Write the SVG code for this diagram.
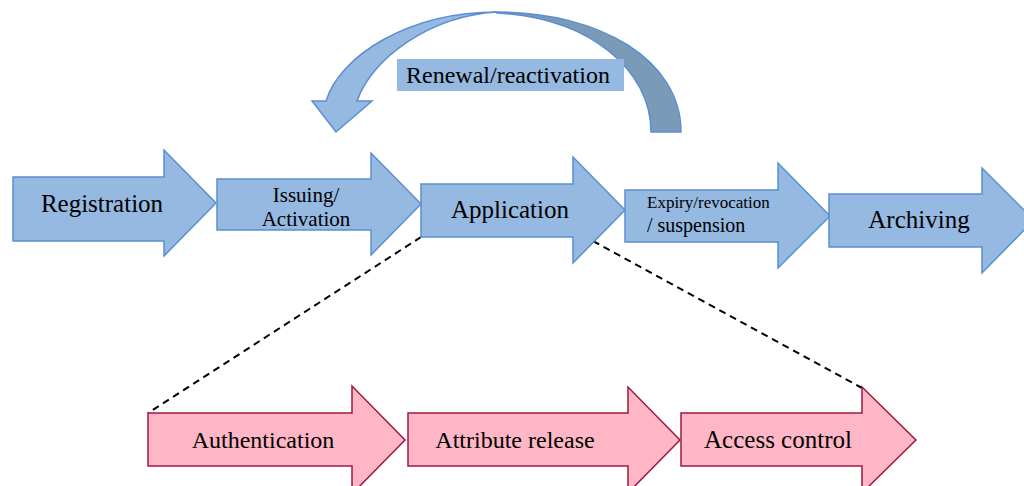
<svg xmlns="http://www.w3.org/2000/svg" width="1024" height="486" viewBox="0 0 1024 486">
<style>
.b{fill:#95B9E0;stroke:#5B8FD0;stroke-width:1.5;stroke-linejoin:miter}
.p{fill:#FFB6C6;stroke:#A0183E;stroke-width:1.5;stroke-linejoin:miter}
.t{fill:#000;text-anchor:middle}
.d{fill:none;stroke:#000;stroke-width:2;stroke-dasharray:7 5}
</style>
<rect width="1024" height="486" fill="#fff"/>
<g id="renewal">
<path d="M497,12 C600,12 681,60 681,132 L651,132 C651,70 590,18 497,13 Z" fill="#7A9AB8" stroke="#5B8FD0" stroke-width="1.5"/>
<path class="b" d="M326,101 C340,55 410,12 497,12 C430,16 372,58 357,101 L372,101 L336,132 L312,101 Z"/>
<rect x="397" y="59" width="227" height="32" fill="#95B9E0"/>
<text class="t" font-family="Liberation Serif, Times New Roman, serif" x="508" y="83" font-size="24">Renewal/reactivation</text>
</g>
<g id="connectors">
<line class="d" x1="421" y1="237" x2="148" y2="413"/>
<line class="d" x1="593" y1="241" x2="862" y2="388"/>
</g>
<g id="registration">
<polygon class="b" points="13,177 164,177 164,150 216,203 164,256 164,241 13,241"/>
<text class="t" font-family="Liberation Serif, Times New Roman, serif" x="102" y="212" font-size="25">Registration</text>
</g>
<g id="issuing">
<polygon class="b" points="217,179 371,179 371,153 421,204 371,255 371,230 217,230"/>
<text class="t" font-family="Liberation Serif, Times New Roman, serif" x="306" y="202" font-size="21">Issuing/</text>
<text class="t" font-family="Liberation Serif, Times New Roman, serif" x="306" y="226" font-size="21">Activation</text>
</g>
<g id="application">
<polygon class="b" points="421,184 573,184 573,157 625,210 573,263 573,237 421,237"/>
<text class="t" font-family="Liberation Serif, Times New Roman, serif" x="510" y="218" font-size="25">Application</text>
</g>
<g id="expiry">
<polygon class="b" points="625,190 778,190 778,163 830,216 778,268 778,242 625,242"/>
<text class="t" font-family="Liberation Serif, Times New Roman, serif" x="647" y="208" font-size="17" style="text-anchor:start">Expiry/revocation</text>
<text class="t" font-family="Liberation Serif, Times New Roman, serif" x="647" y="232" font-size="20" style="text-anchor:start">/ suspension</text>
</g>
<g id="archiving">
<polygon class="b" points="829,194 982,194 982,168 1034,220 982,273 982,247 829,247"/>
<text class="t" font-family="Liberation Serif, Times New Roman, serif" x="919" y="228" font-size="25">Archiving</text>
</g>
<g id="authentication">
<polygon class="p" points="148,413 352,413 352,386 405,440 352,494 352,466 148,466"/>
<text class="t" font-family="Liberation Serif, Times New Roman, serif" x="263" y="448" font-size="24">Authentication</text>
</g>
<g id="attribute">
<polygon class="p" points="408,413 628,413 628,387 680,440 628,493 628,466 408,466"/>
<text class="t" font-family="Liberation Serif, Times New Roman, serif" x="515" y="448" font-size="24">Attribute release</text>
</g>
<g id="access">
<polygon class="p" points="681,413 862,413 862,387 916,440 862,493 862,466 681,466"/>
<text class="t" font-family="Liberation Serif, Times New Roman, serif" x="778" y="448" font-size="25">Access control</text>
</g>
</svg>
